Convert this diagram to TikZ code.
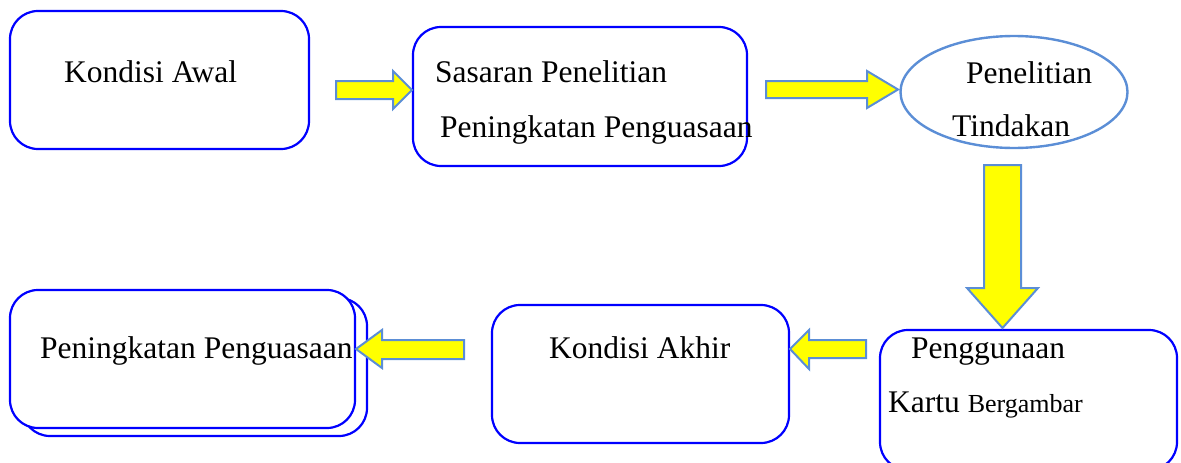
\documentclass[tikz,border=0pt]{standalone}
\usepackage{fontspec}
\setmainfont{Liberation Serif}
\usetikzlibrary{shapes.geometric}
\definecolor{boxblue}{RGB}{0,0,255}
\definecolor{softblue}{RGB}{91,142,214}
\definecolor{arrowyellow}{RGB}{255,255,0}
\tikzset{
  box/.style={draw=boxblue, line width=2.2pt, rounded corners=28pt, fill=white, inner sep=0pt},
  oval/.style={ellipse, draw=softblue, line width=2.4pt, fill=white, inner sep=0pt},
  blockarrow/.style={fill=arrowyellow, draw=softblue, line width=2pt, line join=miter},
  lbl/.style={anchor=base west, inner sep=0pt, font=\fontsize{31.5}{36}\selectfont},
}
\begin{document}
\begin{tikzpicture}[x=1pt,y=-1pt]
\useasboundingbox (0,0) rectangle (1181,463);
\begin{scope}
\clip (0,0) rectangle (1181,463);
% boxes
\node[box, minimum width=299pt, minimum height=138pt] (awal) at (159.5,80) {};
\node[box, minimum width=334pt, minimum height=139pt] (sasaran) at (580,96.5) {};
\node[oval, minimum width=227pt, minimum height=112pt] (tindakan) at (1014,92) {};
\node[box, minimum width=297pt, minimum height=140pt] (kartu) at (1028.5,400) {};
\node[box, minimum width=297pt, minimum height=138pt] (akhir) at (640.5,374) {};
\node[box, minimum width=345pt, minimum height=138pt] (hasilback) at (194.5,367) {};
\node[box, minimum width=345pt, minimum height=138pt] (hasil) at (182.5,359) {};

% block arrows between the stages
\draw[blockarrow] (336,81) -- (393,81) -- (393,71) -- (412,90) -- (393,109) -- (393,99) -- (336,99) -- cycle;
\draw[blockarrow] (766,81) -- (867,81) -- (867,71) -- (898,89.5) -- (867,108) -- (867,98) -- (766,98) -- cycle;
\draw[blockarrow] (984,165) -- (1021,165) -- (1021,288) -- (1038,288) -- (1002.5,328) -- (967,288) -- (984,288) -- cycle;
\draw[blockarrow] (866,340) -- (809,340) -- (809,330) -- (790,349) -- (809,369) -- (809,358) -- (866,358) -- cycle;
\draw[blockarrow] (464,340) -- (382,340) -- (382,330) -- (356,349) -- (382,368) -- (382,359) -- (464,359) -- cycle;

% labels
\node[lbl] (tawal) at (64,82) {Kondisi Awal};
\node[lbl] (tsas1) at (435,82) {Sasaran Penelitian};
\node[lbl] (tsas2) at (440,137) {Peningkatan Penguasaan};
\node[lbl] (tpen1) at (966,83) {Penelitian};
\node[lbl] (tpen2) at (952,136) {Tindakan};
\node[lbl] (tkar1) at (911,358) {Penggunaan};
\node[lbl] (tkar2) at (888,412) {Kartu {\fontsize{26}{30}\selectfont Bergambar}};
\node[lbl] (takhir) at (549,358) {Kondisi Akhir};
\node[lbl] (thasil) at (40,358) {Peningkatan Penguasaan};
\end{scope}
\end{tikzpicture}
\end{document}
